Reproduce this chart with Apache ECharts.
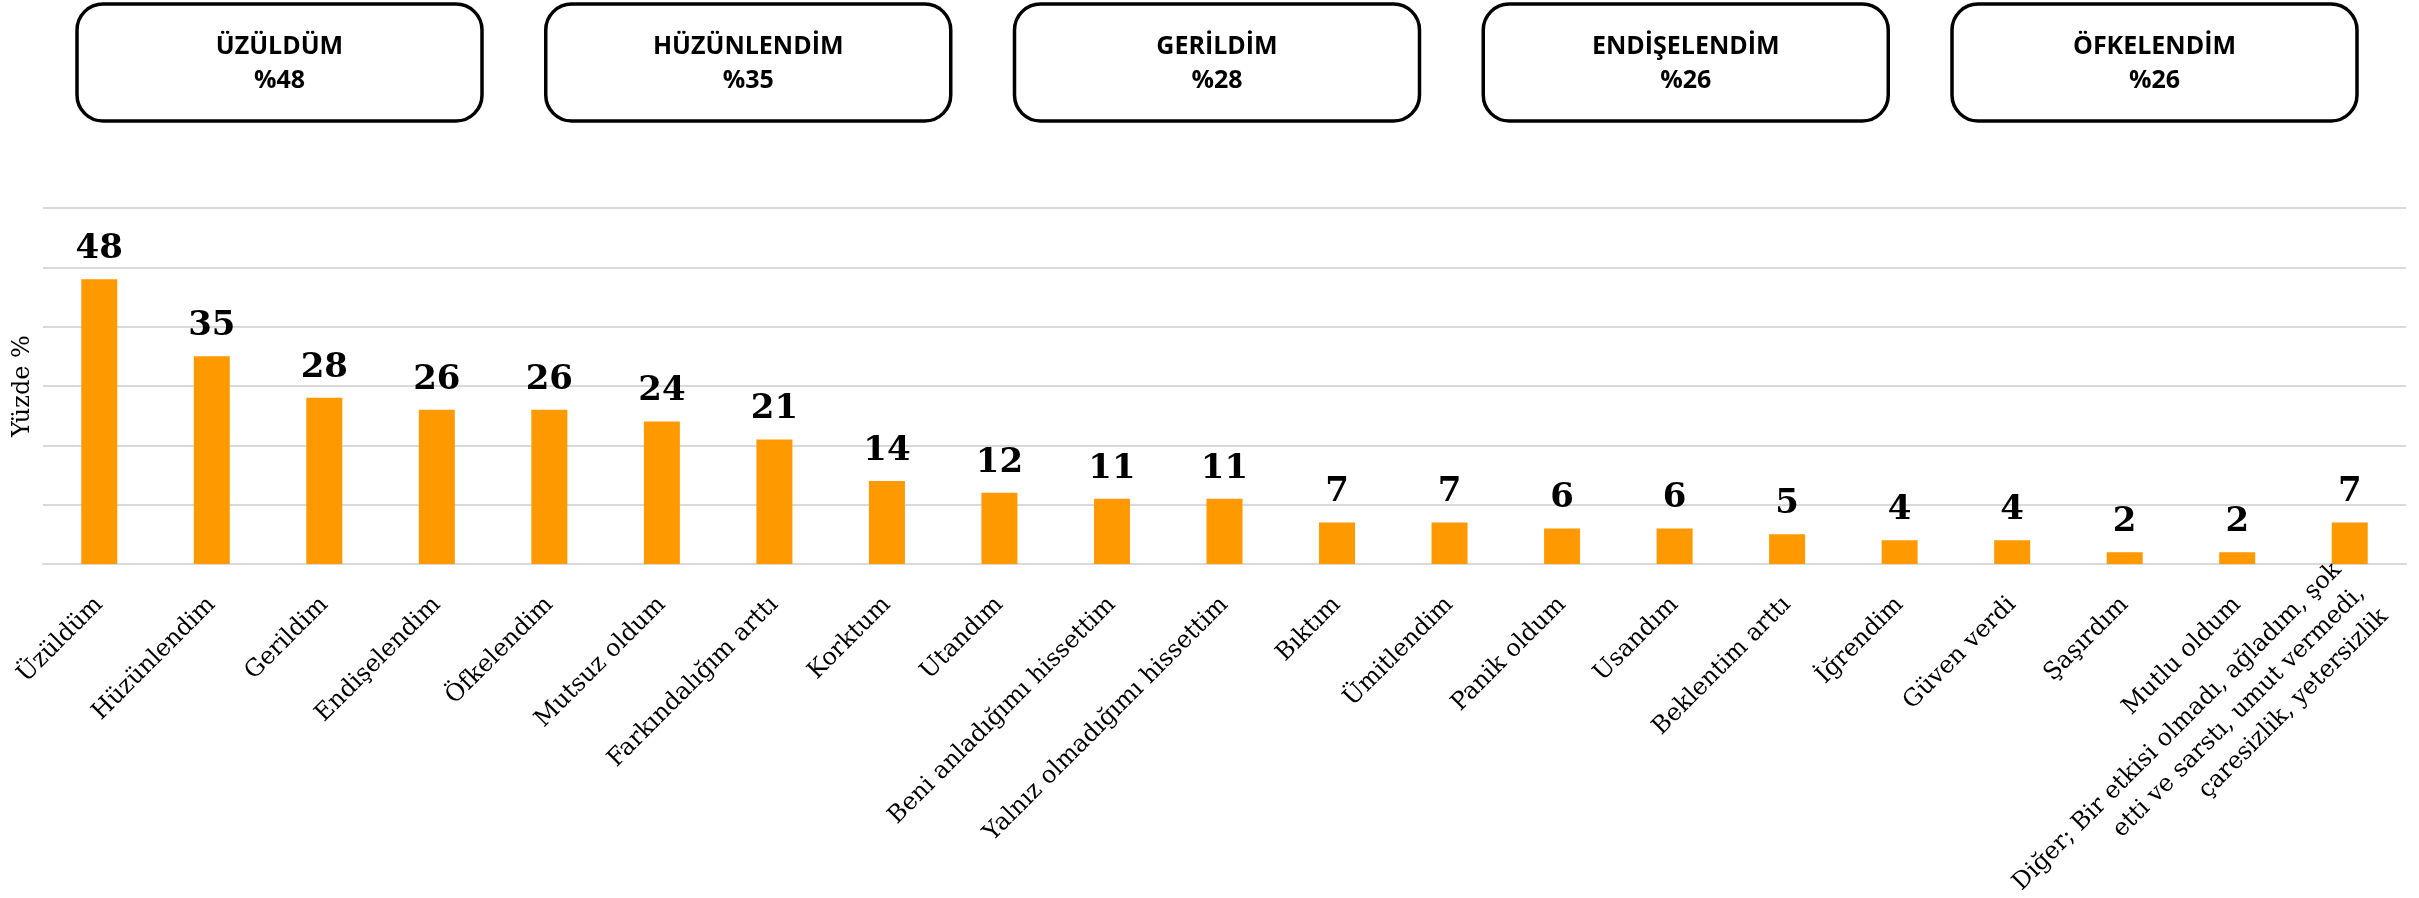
<!DOCTYPE html>
<html>
<head>
<meta charset="utf-8">
<script src="https://cdn.jsdelivr.net/npm/echarts@6/dist/echarts.min.js"></script>
<style>
html,body{margin:0;padding:0;background:#fff;}
#chart{width:2419px;height:898px;}
</style>
</head>
<body>
<div id="chart"></div>
<script>
const categories = [
  'Üzüldüm','Hüzünlendim','Gerildim','Endişelendim','Öfkelendim','Mutsuz oldum',
  'Farkındalığım arttı','Korktum','Utandım','Beni anladığımı hissettim',
  'Yalnız olmadığımı hissettim','Bıktım','Ümitlendim','Panik oldum','Usandım',
  'Beklentim arttı','İğrendim','Güven verdi','Şaşırdım','Mutlu oldum',
  'Diğer; Bir etkisi olmadı, ağladım, şok\netti ve sarstı, umut vermedi,\nçaresizlik, yetersizlik'
];
const values = [48,35,28,26,26,24,21,14,12,11,11,7,7,6,6,5,4,4,2,2,7];
const boxTitles = ['ÜZÜLDÜM','HÜZÜNLENDİM','GERİLDİM','ENDİŞELENDİM','ÖFKELENDİM'];
const boxValues = [48,35,28,26,26];
const yAxisName = 'Yüzde %';

const chart = echarts.init(document.getElementById('chart'));

const boxW = 405, boxH = 117, boxLeft0 = 77, boxStep = 468.75, boxTop = 4;
const boxFont = 'bold 25px "Open Sans", "Noto Sans", sans-serif';
const graphics = boxTitles.map((t, i) => ({
  type: 'group',
  x: boxLeft0 + i * boxStep,
  y: boxTop,
  children: [
    {type:'rect', shape:{x:0,y:0,width:boxW,height:boxH,r:26},
     style:{fill:'#fff', stroke:'#000', lineWidth:3.5}},
    {type:'text', x: boxW/2, y: 43,
     style:{text:t, fill:'#000', font:boxFont, align:'center', verticalAlign:'middle'}},
    {type:'text', x: boxW/2, y: 77,
     style:{text:'%' + boxValues[i], fill:'#000', font:boxFont, align:'center', verticalAlign:'middle'}}
  ]
}));

// the long multi-line label is placed like the others in the source (top-right anchored)
const axisData = categories.map((c) =>
  c.indexOf('\n') >= 0 ? {value: c, textStyle: {padding: [63, -16, 0, 0]}} : c
);

chart.setOption({
  animation: false,
  backgroundColor: '#fff',
  graphic: graphics,
  grid: {left: 43, right: 13, top: 208, bottom: 334, containLabel: false, outerBoundsMode: 'none'},
  xAxis: {
    type: 'category',
    data: axisData,
    axisTick: {show: false},
    axisLine: {lineStyle: {color: '#d9d9d9', width: 2}},
    axisLabel: {
      interval: 0, rotate: 45, margin: 37,
      fontFamily: '"DejaVu Serif", serif', fontSize: 24, color: '#000',
      lineHeight: 33
    }
  },
  yAxis: {
    type: 'value', min: 0, max: 60, interval: 10,
    name: yAxisName, nameLocation: 'middle', nameGap: 8,
    nameTextStyle: {fontFamily: '"DejaVu Serif", serif', fontSize: 24, color: '#000'},
    axisLabel: {show: false},
    axisLine: {show: false},
    axisTick: {show: false},
    splitLine: {lineStyle: {color: '#d9d9d9', width: 2}}
  },
  series: [{
    type: 'bar',
    data: values,
    barWidth: '32%',
    itemStyle: {color: '#FF9900'},
    label: {
      show: true, position: 'top', distance: 13,
      fontFamily: '"DejaVu Serif", serif', fontWeight: 'bold', fontSize: 34, color: '#000'
    }
  }]
});
</script>
</body>
</html>
